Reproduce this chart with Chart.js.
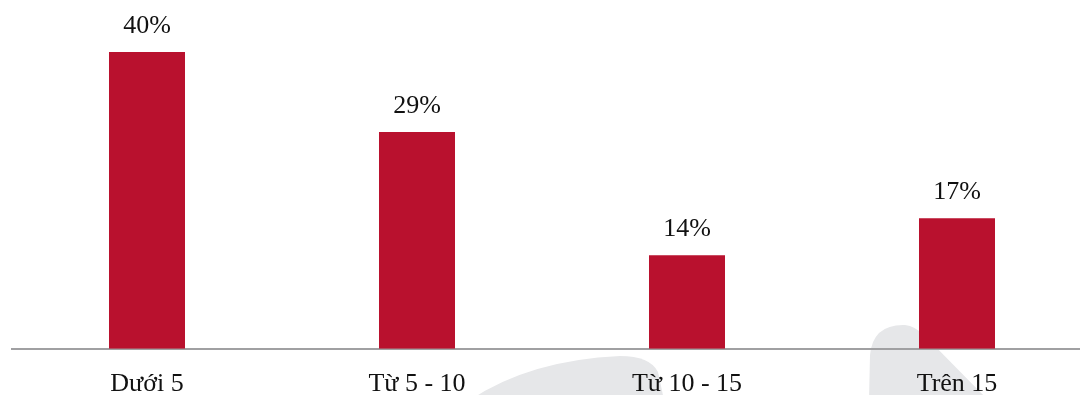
<!DOCTYPE html>
<html lang="vi">
<head>
  <meta charset="UTF-8" />
  <title>Biểu đồ</title>
  <style>
    html, body { margin: 0; padding: 0; background: #fff; overflow: hidden; }
    #wrap { position: relative; width: 1092px; height: 420px; }
  </style>
  <script src="https://cdn.jsdelivr.net/npm/chart.js"></script>
</head>
<body>
  <div id="wrap"><canvas id="chart"></canvas></div>
  <script>
    const categories = ['Dưới 5', 'Từ 5 - 10', 'Từ 10 - 15', 'Trên 15'];
    const values = [40, 29.2, 12.6, 17.6];
    const valueLabels = ['40%', '29%', '14%', '17%'];

    const barColor = '#b9112e';
    const serif = '"Liberation Serif", "DejaVu Serif", serif';

    // nhãn giá trị trên đầu cột
    const valueLabelPlugin = {
      id: 'valueLabels',
      afterDatasetsDraw(chart) {
        const c = chart.ctx;
        const meta = chart.getDatasetMeta(0);
        c.save();
        c.font = '26px ' + serif;
        c.fillStyle = '#111';
        c.textAlign = 'center';
        c.textBaseline = 'alphabetic';
        meta.data.forEach((bar, i) => {
          c.fillText(valueLabels[i], bar.x, bar.y - 19);
        });
        c.restore();
      }
    };

    // hình mờ phía dưới
    const watermarkPlugin = {
      id: 'watermark',
      beforeDraw(chart) {
        const c = chart.ctx;
        c.save();
        c.fillStyle = '#e6e7e9';
        c.beginPath();
        c.moveTo(470, 400);
        c.quadraticCurveTo(530, 360, 620, 356);
        c.quadraticCurveTo(650, 356, 658, 372);
        c.lineTo(664, 400);
        c.closePath();
        c.fill();
        c.beginPath();
        c.moveTo(869, 400);
        c.lineTo(870, 355);
        c.quadraticCurveTo(873, 324, 905, 325);
        c.quadraticCurveTo(915, 326, 925, 336);
        c.lineTo(988, 400);
        c.closePath();
        c.fill();
        c.restore();
      }
    };

    new Chart(document.getElementById('chart'), {
      type: 'bar',
      data: {
        labels: categories,
        datasets: [{
          data: values,
          backgroundColor: barColor,
          borderWidth: 0,
          barPercentage: 0.2815,
          categoryPercentage: 1
        }]
      },
      options: {
        responsive: true,
        maintainAspectRatio: false,
        animation: false,
        layout: { padding: { left: 12, right: 0, top: 0, bottom: 0 } },
        plugins: { legend: { display: false }, tooltip: { enabled: false } },
        scales: {
          x: {
            grid: { display: false, drawTicks: false },
            border: { display: true, color: '#a0a0a2', width: 2 },
            ticks: {
              color: '#111',
              font: { family: serif, size: 26 },
              padding: 20,
              autoSkip: false,
              maxRotation: 0
            }
          },
          y: {
            display: false,
            min: 0,
            max: 47
          }
        }
      },
      plugins: [watermarkPlugin, valueLabelPlugin]
    });
  </script>
</body>
</html>
